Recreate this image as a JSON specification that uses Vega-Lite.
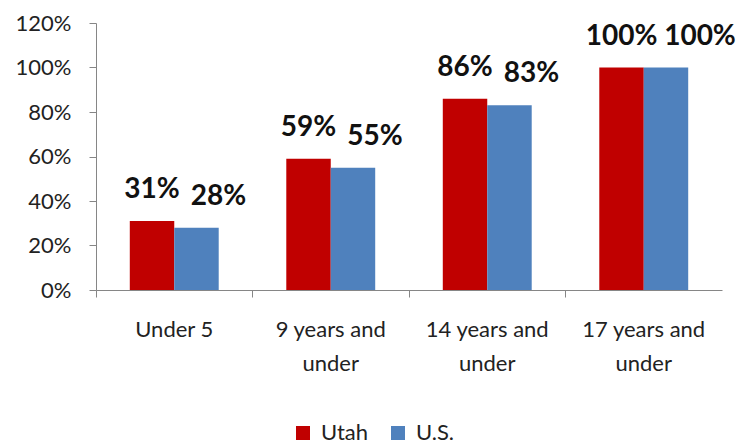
{
  "$schema": "https://vega.github.io/schema/vega-lite/v6.json",
  "width": 626,
  "height": 267,
  "autosize": "none",
  "padding": {"left": 96, "top": 23, "right": 19, "bottom": 155},
  "background": "white",
  "config": {
    "font": "Lato",
    "view": {"stroke": null},
    "axis": {"grid": false, "domainColor": "#868686", "tickColor": "#868686", "labelColor": "#222222", "labelFont": "Lato", "labelFontSize": 22, "titleFontSize": 0}
  },
  "data": {
    "values": [
      {"age": "Under 5", "region": "Utah", "value": 0.31},
      {"age": "Under 5", "region": "U.S.", "value": 0.28},
      {"age": "9 years and under", "region": "Utah", "value": 0.59},
      {"age": "9 years and under", "region": "U.S.", "value": 0.55},
      {"age": "14 years and under", "region": "Utah", "value": 0.86},
      {"age": "14 years and under", "region": "U.S.", "value": 0.83},
      {"age": "17 years and under", "region": "Utah", "value": 1.0},
      {"age": "17 years and under", "region": "U.S.", "value": 1.0}
    ]
  },
  "encoding": {
    "x": {
      "field": "age", "type": "nominal", "sort": null, "title": null,
      "scale": {"paddingInner": 0, "paddingOuter": 0},
      "axis": {
        "labelAngle": 0, "bandPosition": 0, "tickSize": 7, "labelPadding": 22,
        "labelBaseline": "top", "labelLineHeight": 34, "labelBound": false,
        "labelExpr": "indexof(datum.value, ' under') > 0 ? [replace(datum.value, ' under', ''), 'under'] : datum.value"
      }
    },
    "xOffset": {"field": "region", "type": "nominal", "sort": ["Utah", "U.S."], "scale": {"paddingInner": 0, "paddingOuter": 0.76}},
    "y": {
      "field": "value", "type": "quantitative", "title": null,
      "scale": {"domain": [0, 1.2], "nice": false},
      "axis": {"values": [0, 0.2, 0.4, 0.6, 0.8, 1.0, 1.2], "format": ".0%", "tickSize": 7, "labelPadding": 18}
    }
  },
  "layer": [
    {
      "mark": {"type": "bar"},
      "encoding": {
        "color": {
          "field": "region", "type": "nominal", "sort": ["Utah", "U.S."],
          "scale": {"domain": ["Utah", "U.S."], "range": ["#C00000", "#4F81BD"]},
          "legend": {
            "title": null, "orient": "none", "direction": "horizontal",
            "legendX": 196, "legendY": 399, "symbolType": "square", "symbolSize": 196,
            "symbolStrokeWidth": 0, "labelFontSize": 22, "labelFont": "Lato", "labelColor": "#222222",
            "columnPadding": 18, "labelOffset": 7
          }
        }
      }
    },
    {
      "transform": [{"filter": "datum.region == 'Utah'"}],
      "mark": {"type": "text", "baseline": "bottom", "dy": -17, "fontSize": 28, "fontWeight": "bold", "color": "#111111"},
      "encoding": {"text": {"field": "value", "type": "quantitative", "format": ".0%"}}
    },
    {
      "transform": [{"filter": "datum.region == 'U.S.' && datum.value < 1"}],
      "mark": {"type": "text", "baseline": "bottom", "dy": -17, "dx": 22, "fontSize": 28, "fontWeight": "bold", "color": "#111111"},
      "encoding": {"text": {"field": "value", "type": "quantitative", "format": ".0%"}}
    },
    {
      "transform": [{"filter": "datum.region == 'U.S.' && datum.value >= 1"}],
      "mark": {"type": "text", "baseline": "bottom", "dy": -17, "dx": 34, "fontSize": 28, "fontWeight": "bold", "color": "#111111"},
      "encoding": {"text": {"field": "value", "type": "quantitative", "format": ".0%"}}
    }
  ]
}
